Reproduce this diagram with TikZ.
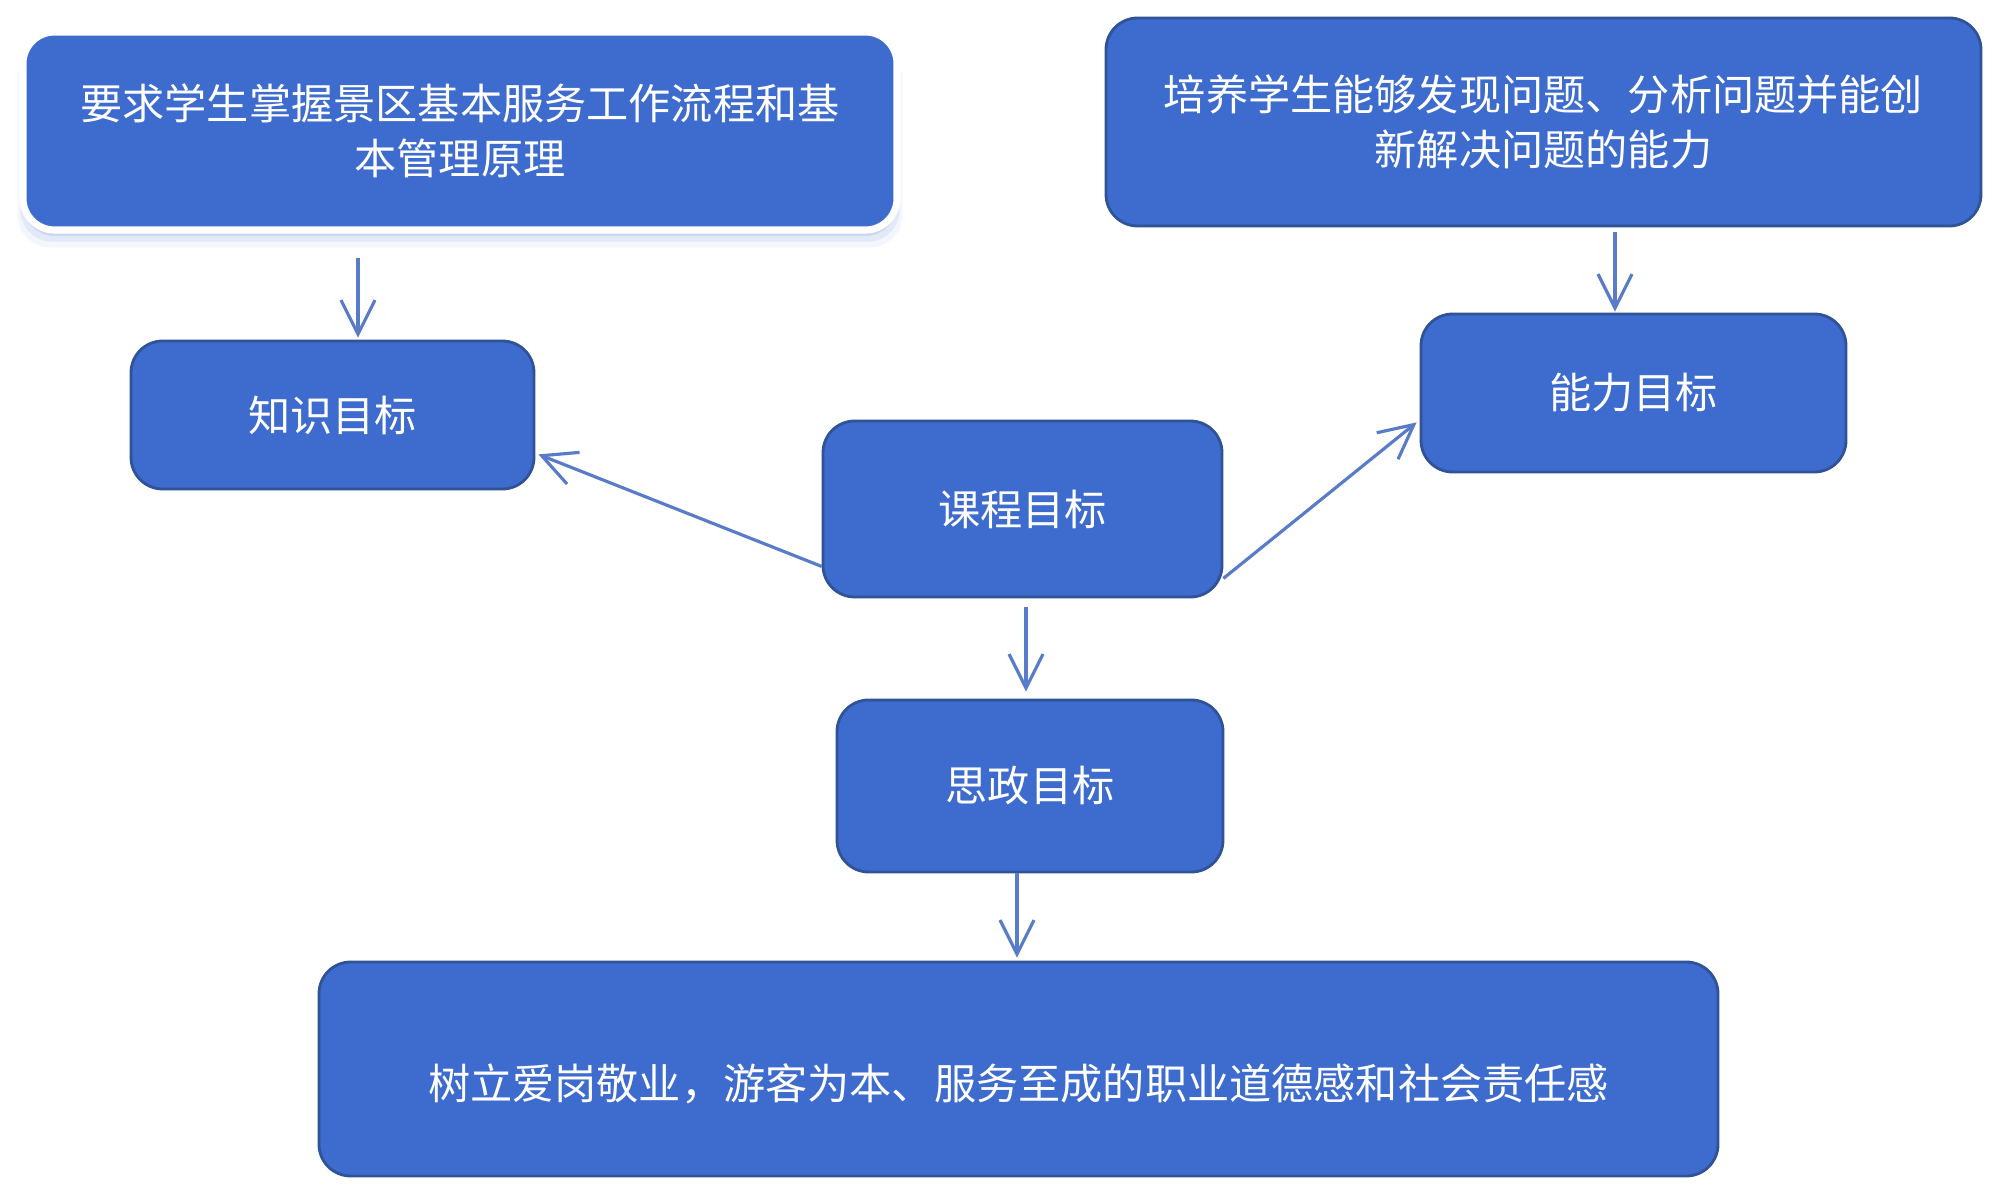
\documentclass[tikz,border=0pt]{standalone}
\usepackage{fontspec}
\usepackage{xcolor}
\usepackage{tikz}
\usetikzlibrary{arrows.meta, positioning, shadows}
\newfontfamily\cjk{Noto Sans CJK SC}
\definecolor{boxblue}{RGB}{61,107,206}
\definecolor{edgeblue}{RGB}{48,82,150}
\definecolor{arrblue}{RGB}{88,124,200}
\tikzset{
  goal/.style  ={rectangle, rounded corners=9pt, draw=edgeblue, fill=boxblue, line width=0.8pt,
                 text=white, align=center, font=\cjk\fontsize{12}{15.5}\selectfont},
  goalw/.style ={goal, draw=white, line width=2pt,
                 drop shadow={shadow xshift=0pt, shadow yshift=-1.6mm, shadow scale=1.012, fill=boxblue!40, opacity=0.15},
                 drop shadow={shadow xshift=0pt, shadow yshift=-1.1mm, shadow scale=1.006, fill=boxblue!50, opacity=0.2},
                 drop shadow={shadow xshift=0pt, shadow yshift=-0.6mm, fill=boxblue!60, opacity=0.25}},
  ar/.style    ={-{Straight Barb[length=3.4mm, width=3.4mm]}, draw=arrblue, line width=0.9pt},
}
\begin{document}
\begin{tikzpicture}
\fill[white] (0,0) rectangle (20,-11.96);
\useasboundingbox (0,0) rectangle (20,-11.96);
% top boxes
\node[goalw, minimum width=8.74cm, minimum height=1.98cm] (t1) at (4.60,-1.31)
  {要求学生掌握景区基本服务工作流程和基\\本管理原理};
\node[goal, minimum width=8.75cm, minimum height=2.08cm] (t2) at (15.435,-1.22)
  {培养学生能够发现问题、分析问题并能创\\新解决问题的能力};
% goals
\node[goal, minimum width=4.03cm, minimum height=1.48cm] (zs) at (3.325,-4.15) {知识目标};
\node[goal, minimum width=4.25cm, minimum height=1.58cm] (nl) at (16.335,-3.93) {能力目标};
\node[goal, minimum width=3.99cm, minimum height=1.76cm] (kc) at (10.225,-5.09) {课程目标};
\node[goal, minimum width=3.86cm, minimum height=1.72cm] (sz) at (10.30,-7.86) {思政目标};
\node[goal, minimum width=13.99cm, minimum height=2.14cm, text height=7.1mm, text depth=1mm] (bt) at (10.185,-10.69)
  {树立爱岗敬业，游客为本、服务至成的职业道德感和社会责任感};
% arrows
\draw[ar] ([xshift=2.55mm,yshift=-2.4mm]zs.north |- t1.south) -- ([xshift=2.55mm,yshift=0.2mm]zs.north);
\draw[ar] ([xshift=-1.85mm,yshift=-0.5mm]nl.north |- t2.south) -- ([xshift=-1.85mm,yshift=0.1mm]nl.north);
\draw[ar] ([yshift=3.2mm]kc.south west) -- ([xshift=0.3mm,yshift=3.6mm]zs.south east);
\draw[ar] ([yshift=2mm]kc.south east) -- ([xshift=-0.3mm,yshift=5.1mm]nl.south west);
\draw[ar] ([xshift=0.35mm,yshift=-0.9mm]kc.south) -- ([xshift=0.35mm,yshift=0.7mm]kc.south |- sz.north);
\draw[ar] ([xshift=-1.3mm]sz.south) -- ([xshift=-1.3mm,yshift=0.3mm]sz.south |- bt.north);
\end{tikzpicture}
\end{document}
